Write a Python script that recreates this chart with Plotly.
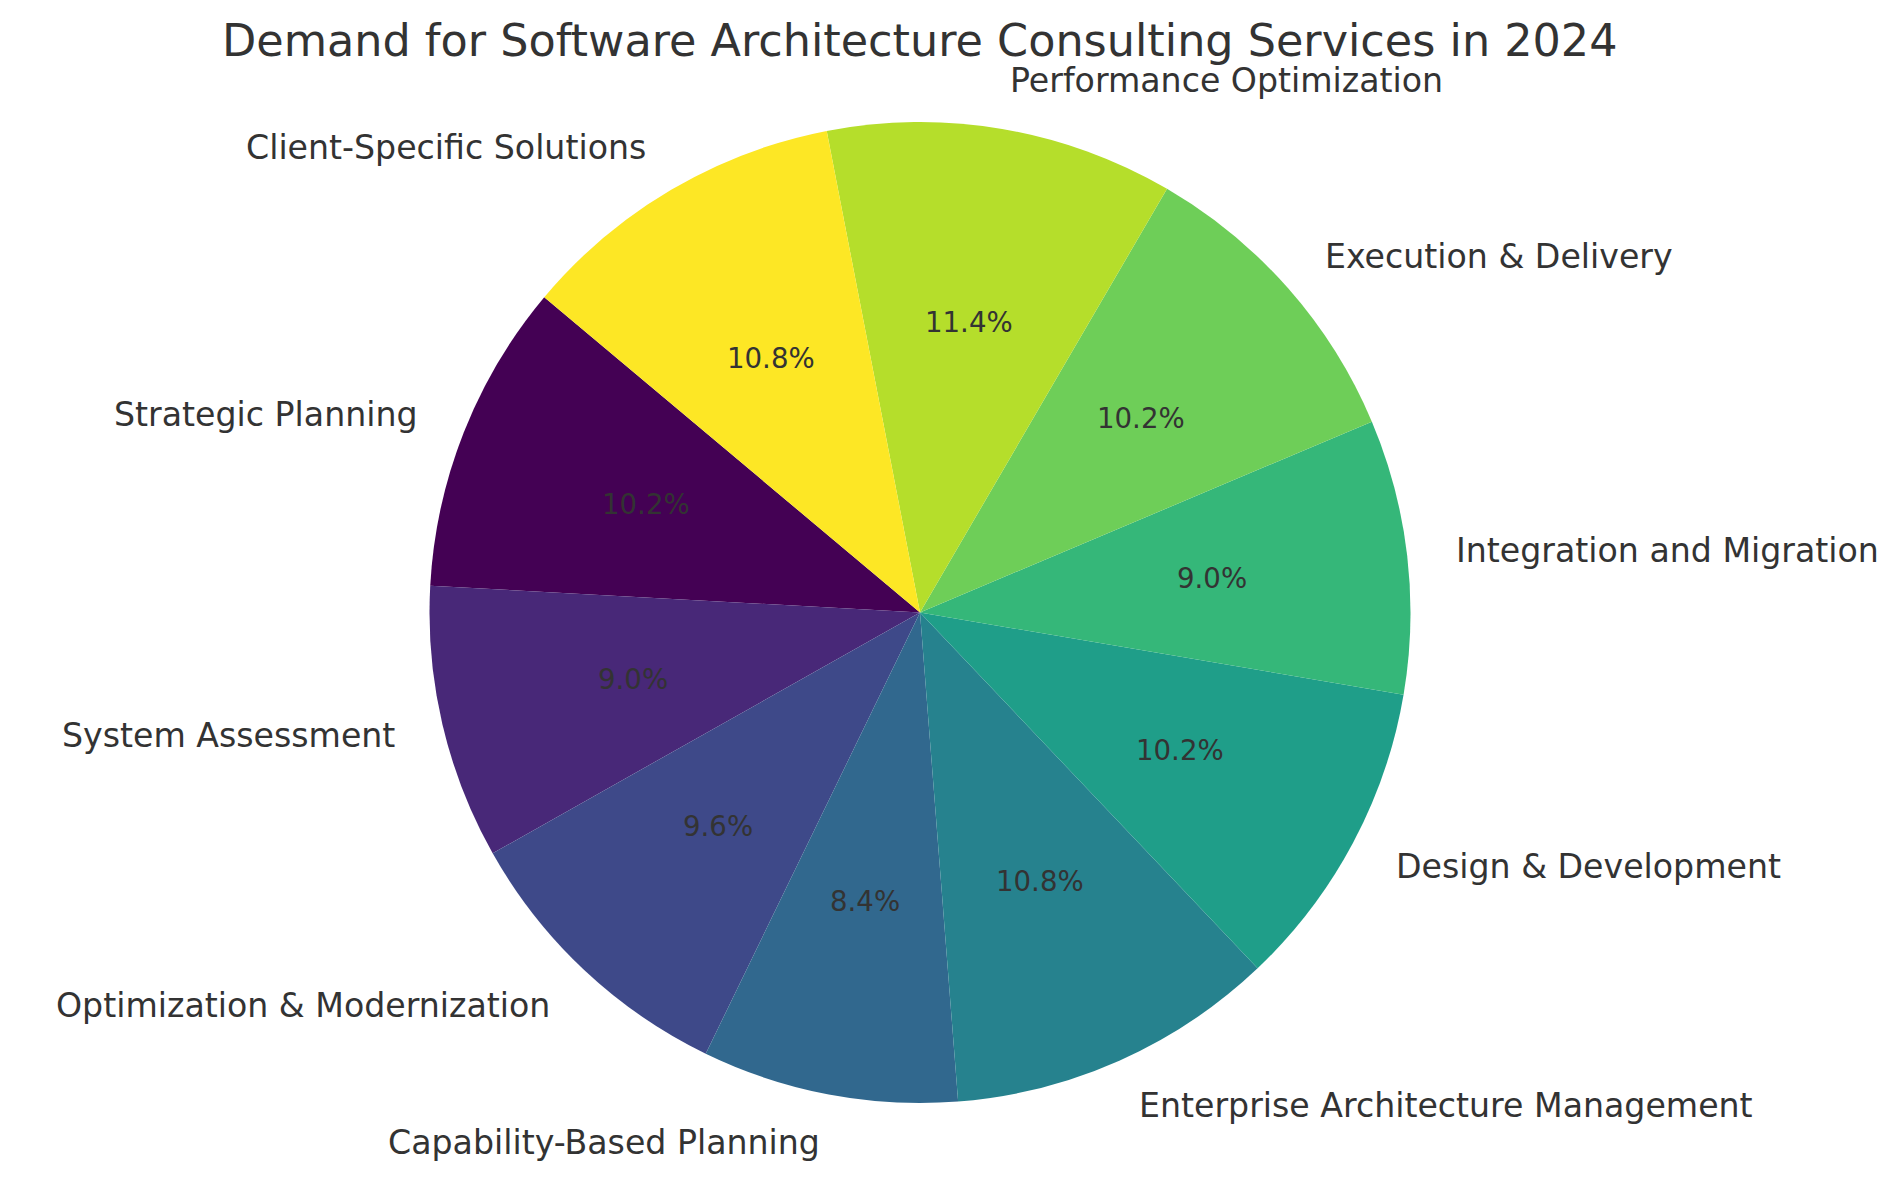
import math
import plotly.graph_objects as go

categories = [
    "Strategic Planning",
    "System Assessment",
    "Optimization & Modernization",
    "Capability-Based Planning",
    "Enterprise Architecture Management",
    "Design & Development",
    "Integration and Migration",
    "Execution & Delivery",
    "Performance Optimization",
    "Client-Specific Solutions",
]
values = [17, 15, 16, 14, 18, 17, 15, 17, 19, 18]
colors = ["#440154", "#482878", "#3e4989", "#31688e", "#26828e",
          "#1f9e89", "#35b779", "#6ece58", "#b5de2b", "#fde725"]
title_text = "Demand for Software Architecture Consulting Services in 2024"

# page body has an 8px margin, so the figure is offset by 8px
W, H = 1882, 1162
CX, CY = 912.0, 604.5   # pie centre in figure pixels (from top-left)
R = 490.5               # pie radius in pixels
START = 140.0           # start angle of first slice (deg, ccw from +x)
FONT = "DejaVu Sans"
TXT = "#333333"

total = sum(values)
first_end = START + 360.0 * values[0] / total

fig = go.Figure(go.Pie(
    labels=categories,
    values=values,
    sort=False,
    direction="counterclockwise",
    rotation=-(first_end - 90.0),
    marker=dict(colors=colors, line=dict(width=0)),
    textinfo="none",
    hoverinfo="label+percent",
    showlegend=False,
    domain=dict(x=[(CX - R) / W, (CX + R) / W],
                y=[(H - CY - R) / H, (H - CY + R) / H]),
))

annotations = []
theta = START
for lab, v in zip(categories, values):
    frac = v / total
    mid = math.radians(theta + 360.0 * frac / 2)
    theta += 360.0 * frac
    lx = CX + 1.1 * R * math.cos(mid)
    ly = CY - 1.1 * R * math.sin(mid)
    annotations.append(dict(
        x=lx / W, y=1 - ly / H, xref="paper", yref="paper",
        text=lab, showarrow=False,
        xanchor="left" if math.cos(mid) > 0 else "right", yanchor="middle",
        font=dict(family=FONT, size=33.2, color=TXT),
        borderpad=0, borderwidth=0,
    ))
    px = CX + 0.6 * R * math.cos(mid)
    py = CY - 0.6 * R * math.sin(mid)
    annotations.append(dict(
        x=px / W, y=1 - py / H, xref="paper", yref="paper",
        text=f"{100 * frac:.1f}%", showarrow=False,
        xanchor="center", yanchor="middle",
        font=dict(family=FONT, size=27.6, color=TXT),
        borderpad=0, borderwidth=0,
    ))

annotations.append(dict(
    x=CX / W, y=1 - 32 / H, xref="paper", yref="paper",
    text=title_text, showarrow=False,
    xanchor="center", yanchor="middle",
    font=dict(family=FONT, size=44.5, color=TXT),
    borderpad=0, borderwidth=0,
))

fig.update_layout(
    width=W, height=H,
    margin=dict(l=0, r=0, t=0, b=0),
    paper_bgcolor="white", plot_bgcolor="white",
    annotations=annotations,
    font=dict(family=FONT, color=TXT),
)

fig.write_html("out.html")
